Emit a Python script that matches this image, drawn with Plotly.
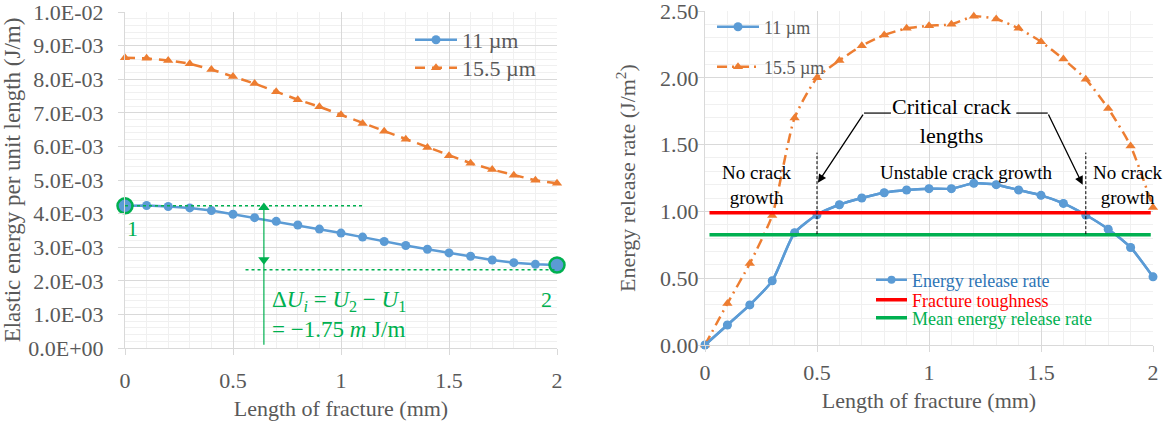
import plotly.graph_objects as go

# ---------------- data ----------------
CRACK_MM = [0.0, 0.1, 0.2, 0.3, 0.4, 0.5, 0.6, 0.7, 0.8, 0.9, 1.0,
            1.1, 1.2, 1.3, 1.4, 1.5, 1.6, 1.7, 1.8, 1.9, 2.0]

# Elastic energy per unit length (J/m)
U_11 = [4.23e-3, 4.24e-3, 4.21e-3, 4.17e-3, 4.09e-3, 3.98e-3, 3.88e-3, 3.77e-3,
        3.66e-3, 3.54e-3, 3.42e-3, 3.30e-3, 3.17e-3, 3.05e-3, 2.94e-3, 2.83e-3,
        2.73e-3, 2.62e-3, 2.54e-3, 2.49e-3, 2.47e-3]
U_155 = [8.64e-3, 8.62e-3, 8.56e-3, 8.46e-3, 8.29e-3, 8.08e-3, 7.87e-3, 7.63e-3,
         7.39e-3, 7.18e-3, 6.94e-3, 6.68e-3, 6.45e-3, 6.21e-3, 5.97e-3, 5.72e-3,
         5.50e-3, 5.31e-3, 5.14e-3, 4.99e-3, 4.90e-3]

# Energy release rate (J/m2)
G_11 = [0.00, 0.15, 0.30, 0.48, 0.84, 0.975, 1.05, 1.10, 1.14, 1.16, 1.17,
        1.17, 1.21, 1.20, 1.16, 1.12, 1.06, 0.973, 0.867, 0.73, 0.51]
G_155 = [0.00, 0.31, 0.61, 0.97, 1.70, 2.00, 2.13, 2.24, 2.32, 2.37, 2.39,
         2.40, 2.46, 2.44, 2.37, 2.27, 2.14, 1.99, 1.77, 1.49, 1.03]

REF_X = [0.02, 1.99]
TOUGHNESS = [0.99, 0.99]
MEAN_G = [0.826, 0.826]

# end points 1 and 2 of the 11 um curve
END_X = [CRACK_MM[0], CRACK_MM[-1]]
END_U = [U_11[0], U_11[-1]]

# tick labels
LEFT_YTICKVALS = [0, 1e-3, 2e-3, 3e-3, 4e-3, 5e-3, 6e-3, 7e-3, 8e-3, 9e-3, 1e-2]
LEFT_YTICKTEXT = ["0.0E+00", "1.0E-03", "2.0E-03", "3.0E-03", "4.0E-03", "5.0E-03",
                  "6.0E-03", "7.0E-03", "8.0E-03", "9.0E-03", "1.0E-02"]
RIGHT_YTICKVALS = [0, 0.5, 1.0, 1.5, 2.0, 2.5]
RIGHT_YTICKTEXT = ["0.00", "0.50", "1.00", "1.50", "2.00", "2.50"]
XTICKVALS = [0, 0.5, 1, 1.5, 2]
XTICKTEXT = ["0", "0.5", "1", "1.5", "2"]

# ---------------- style ----------------
FONT = "Liberation Serif"
BLUE = "#5B9BD5"
ORANGE = "#ED7D31"
GREEN = "#00B050"
RED = "#FF0000"
GRAY_TXT = "#595959"
GRID = "#D9D9D9"
MINOR = "#F0F0F0"
W, H = 1166, 421


def px_x(p):
    return p / W


def px_y(p):
    return 1 - p / H


def legend_at(xp, yp, size, itemwidth):
    return dict(x=px_x(xp), y=px_y(yp), xanchor="left", yanchor="middle",
                bgcolor="rgba(0,0,0,0)", itemwidth=itemwidth,
                font=dict(family=FONT, size=size, color=GRAY_TXT))


fig = go.Figure()

# ----- left chart -----
fig.add_trace(go.Scatter(
    x=CRACK_MM, y=U_11, name="11 µm", mode="lines+markers",
    line=dict(color=BLUE, width=2.5), marker=dict(symbol="circle", size=9, color=BLUE),
    xaxis="x", yaxis="y", legend="legend", cliponaxis=False))
fig.add_trace(go.Scatter(
    x=CRACK_MM, y=U_155, name="15.5 µm", mode="lines+markers",
    line=dict(color=ORANGE, width=2.5, dash="10px,7px"),
    marker=dict(symbol="triangle-up", size=9, color=ORANGE),
    xaxis="x", yaxis="y", legend="legend4", cliponaxis=False))
fig.add_trace(go.Scatter(
    x=END_X, y=END_U, mode="markers", showlegend=False,
    marker=dict(symbol="circle", size=15, color=BLUE, line=dict(color=GREEN, width=2.5)),
    xaxis="x", yaxis="y", cliponaxis=False))

# green delta-U helper arrow
ARROW_X = 0.643
fig.add_shape(type="line", xref="x", yref="y", x0=0, x1=1.107, y0=4.23e-3, y1=4.23e-3,
              line=dict(color=GREEN, width=1.5, dash="3px,3px"))
fig.add_shape(type="line", xref="x", yref="y", x0=0.558, x1=1.99, y0=2.33e-3, y1=2.33e-3,
              line=dict(color=GREEN, width=1.5, dash="3px,3px"))
fig.add_shape(type="line", xref="x", yref="y", x0=ARROW_X, x1=ARROW_X, y0=0.1e-3, y1=4.2e-3,
              line=dict(color=GREEN, width=1.2))
fig.add_trace(go.Scatter(
    x=[ARROW_X, ARROW_X], y=[4.18e-3, 2.63e-3], mode="markers", showlegend=False,
    marker=dict(symbol=["triangle-up", "triangle-down"], size=10, color=GREEN),
    xaxis="x", yaxis="y", hoverinfo="skip"))

# ----- right chart -----
fig.add_trace(go.Scatter(
    x=CRACK_MM, y=G_11, name="11 µm", mode="lines+markers",
    line=dict(color=BLUE, width=2.5, shape="spline", smoothing=0.6),
    marker=dict(symbol="circle", size=9, color=BLUE),
    xaxis="x2", yaxis="y2", legend="legend2", cliponaxis=False))
fig.add_trace(go.Scatter(
    x=CRACK_MM, y=G_155, name="15.5 µm", mode="lines+markers",
    line=dict(color=ORANGE, width=2.5, dash="10px,5px,2px,5px", shape="spline", smoothing=0.6),
    marker=dict(symbol="triangle-up", size=9, color=ORANGE),
    xaxis="x2", yaxis="y2", legend="legend5", cliponaxis=False))
fig.add_trace(go.Scatter(
    x=CRACK_MM, y=G_11, name="<span style='color:#2E75B6'>Energy release rate</span>",
    mode="lines+markers",
    line=dict(color=BLUE, width=2.5, shape="spline", smoothing=0.6),
    marker=dict(symbol="circle", size=8, color=BLUE),
    xaxis="x2", yaxis="y2", legend="legend3", cliponaxis=False))
fig.add_trace(go.Scatter(
    x=REF_X, y=TOUGHNESS, name=f"<span style='color:{RED}'>Fracture toughness</span>",
    mode="lines", line=dict(color=RED, width=3.5),
    xaxis="x2", yaxis="y2", legend="legend6"))
fig.add_trace(go.Scatter(
    x=REF_X, y=MEAN_G, name=f"<span style='color:{GREEN}'>Mean energy release rate</span>",
    mode="lines", line=dict(color=GREEN, width=3.5),
    xaxis="x2", yaxis="y2", legend="legend7"))

# critical crack length markers
for xc in (0.5, 1.7):
    fig.add_shape(type="line", xref="x2", yref="y2", x0=xc, x1=xc, y0=0.83, y1=1.44,
                  line=dict(color="#000000", width=1, dash="3px,2px"))
fig.add_shape(type="line", xref="x2", yref="y2", x0=0.83, x1=0.71, y0=1.736, y1=1.736,
              line=dict(color="#000000", width=1.2))
fig.add_shape(type="line", xref="x2", yref="y2", x0=1.39, x1=1.53, y0=1.736, y1=1.736,
              line=dict(color="#000000", width=1.2))

annotations = [
    dict(x=0.504, y=1.214, ax=0.71, ay=1.736, xref="x2", yref="y2", axref="x2", ayref="y2",
         text="", showarrow=True, arrowhead=2, arrowsize=1.3, arrowwidth=1.3, arrowcolor="#000000"),
    dict(x=1.686, y=1.20, ax=1.53, ay=1.736, xref="x2", yref="y2", axref="x2", ayref="y2",
         text="", showarrow=True, arrowhead=2, arrowsize=1.3, arrowwidth=1.3, arrowcolor="#000000"),
    dict(x=1.10, y=1.68, xref="x2", yref="y2", text="Critical crack<br>lengths", showarrow=False,
         font=dict(family=FONT, size=22, color="#000000")),
    dict(x=0.23, y=1.20, xref="x2", yref="y2", text="No crack<br>growth", showarrow=False,
         font=dict(family=FONT, size=19, color="#000000")),
    dict(x=1.166, y=1.29, xref="x2", yref="y2", text="Unstable crack growth", showarrow=False,
         font=dict(family=FONT, size=19, color="#000000")),
    dict(x=1.89, y=1.20, xref="x2", yref="y2", text="No crack<br>growth", showarrow=False,
         font=dict(family=FONT, size=19, color="#000000")),
    # left chart labels
    dict(x=0.035, y=3.55e-3, xref="x", yref="y", text="1", showarrow=False,
         font=dict(family=FONT, size=22, color=GREEN)),
    dict(x=1.95, y=1.45e-3, xref="x", yref="y", text="2", showarrow=False,
         font=dict(family=FONT, size=22, color=GREEN)),
    dict(x=0.67, y=1.0e-3, xref="x", yref="y", xanchor="left", yanchor="middle", align="left",
         text="Δ<i>U<sub>i</sub></i> = <i>U</i><sub>2</sub> − <i>U</i><sub>1</sub>"
              "<br>= −1.75 <i>m</i> J/m",
         showarrow=False, font=dict(family=FONT, size=23, color=GREEN)),
]

axis_common = dict(
    showgrid=True, gridcolor=GRID, gridwidth=1, zeroline=False,
    showline=True, linecolor=GRID, linewidth=1, automargin=False,
    ticks="outside", ticklen=6, tickcolor=GRID, ticklabeloverflow="allow",
    tickfont=dict(family=FONT, size=22, color=GRAY_TXT),
)

fig.update_layout(
    width=W, height=H, margin=dict(l=0, r=0, t=0, b=0, autoexpand=False),
    paper_bgcolor="white", plot_bgcolor="white",
    font=dict(family=FONT, color=GRAY_TXT),
    xaxis=dict(domain=[px_x(125), px_x(557)], range=[0, 2], anchor="y",
               tickvals=XTICKVALS, ticktext=XTICKTEXT, ticklabelstandoff=7,
               minor=dict(dtick=0.1, showgrid=True, gridcolor=MINOR, ticks=""),
               title=dict(text="Length of fracture (mm)", standoff=9,
                          font=dict(family=FONT, size=22, color=GRAY_TXT)),
               **axis_common),
    yaxis=dict(domain=[px_y(348), px_y(12)], range=[0, 0.0100001], anchor="x",
               tickvals=LEFT_YTICKVALS, ticktext=LEFT_YTICKTEXT, ticklabelstandoff=10,
               minor=dict(dtick=0.0002, showgrid=True, gridcolor=MINOR, ticks=""),
               title=dict(text="Elastic energy per unit length (J/m)", standoff=7,
                          font=dict(family=FONT, size=23, color=GRAY_TXT)),
               **axis_common),
    xaxis2=dict(domain=[px_x(705), px_x(1153)], range=[0, 2], anchor="y2",
                tickvals=XTICKVALS, ticktext=XTICKTEXT, ticklabelstandoff=2,
                minor=dict(dtick=0.1, showgrid=True, gridcolor=MINOR, ticks=""),
                title=dict(text="Length of fracture (mm)", standoff=8,
                           font=dict(family=FONT, size=22, color=GRAY_TXT)),
                **axis_common),
    yaxis2=dict(domain=[px_y(345), px_y(11)], range=[0, 2.5000001], anchor="x2",
                tickvals=RIGHT_YTICKVALS, ticktext=RIGHT_YTICKTEXT, ticklabelstandoff=-5,
                minor=dict(dtick=0.1, showgrid=True, gridcolor=MINOR, ticks=""),
                title=dict(text="Energy release rate (J/m<sup>2</sup>)", standoff=18,
                           font=dict(family=FONT, size=22, color=GRAY_TXT)),
                **axis_common),
    legend=legend_at(410, 40, 22, 42),
    legend4=legend_at(410, 68, 22, 42),
    legend2=legend_at(712, 27, 18, 42),
    legend5=legend_at(712, 67, 18, 42),
    legend3=legend_at(871, 280, 18, 31),
    legend6=legend_at(871, 300, 18, 31),
    legend7=legend_at(871, 318, 18, 31),
    annotations=annotations,
    showlegend=True,
)

fig.write_html("out.html")
